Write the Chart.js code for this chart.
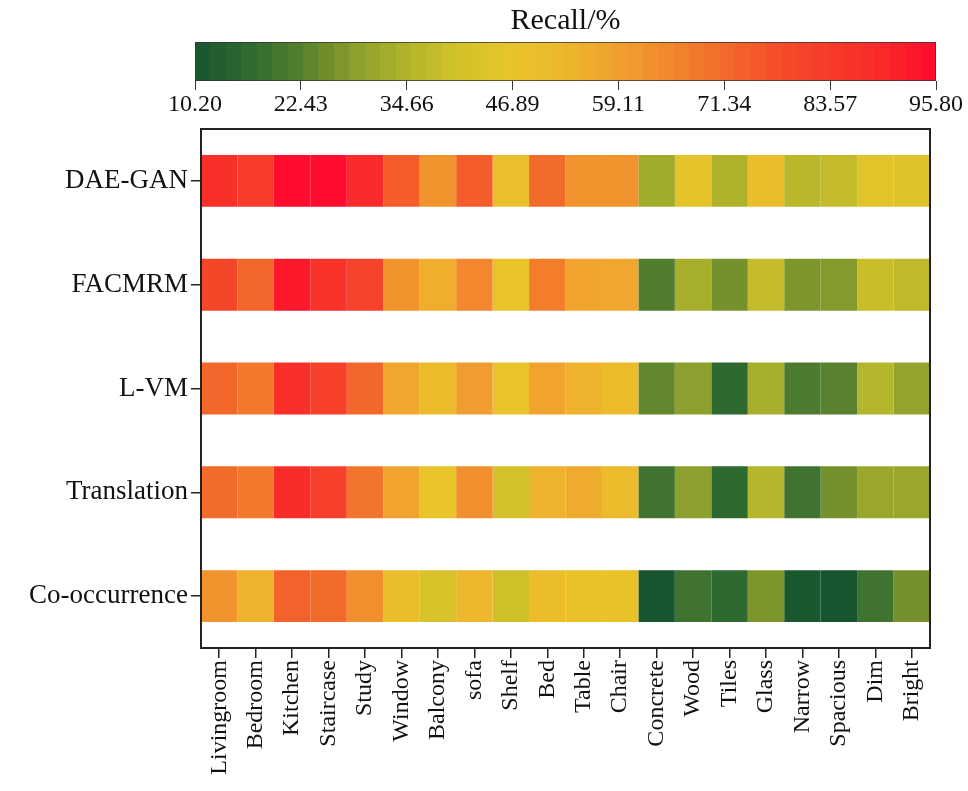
<!DOCTYPE html>
<html><head><meta charset="utf-8">
<script src="https://cdn.jsdelivr.net/npm/chart.js@4"></script>
<style>
html,body{margin:0;padding:0;background:#fff;}
#wrap{position:relative;width:968px;height:791px;background:#fff;}
#cb,#hm{position:absolute;left:0;top:0;}
</style></head><body>
<div id="wrap"><canvas id="cb" width="968" height="128"></canvas><canvas id="hm" width="968" height="791"></canvas></div>
<script>
// ---- data ----
const rowLabels = ['DAE-GAN', 'FACMRM', 'L-VM', 'Translation', 'Co-occurrence'];
const colLabels = ['Livingroom','Bedroom','Kitchen','Staircase','Study','Window','Balcony','sofa','Shelf','Bed','Table','Chair','Concrete','Wood','Tiles','Glass','Narrow','Spacious','Dim','Bright'];
const daeGan       = [88, 83, 95.5, 95.5, 90, 74, 62, 74, 49, 71, 62, 62, 32, 46, 34, 50, 36, 38, 45, 44];
const facmrm       = [80, 72, 93, 87, 81, 62, 55, 65, 47, 67, 58, 57, 22, 33, 26, 38, 27, 28, 39, 37];
const lvm          = [72, 68, 88, 82, 72, 57, 51, 60, 47, 58, 54, 51, 24, 29, 16, 33, 21, 23, 35, 30];
const translation  = [71, 68, 89, 82, 69, 58, 47, 63, 41, 54, 56, 51, 19, 29, 16, 35, 19, 26, 31, 31];
const coOccurrence = [62, 54, 73, 71, 63, 50, 42, 53, 40, 50, 48, 48, 10.5, 19, 16, 27, 11, 10.2, 19, 26];
const cbTickValues = [10.20, 22.43, 34.66, 46.89, 59.11, 71.34, 83.57, 95.80];
const cbMin = 10.20, cbMax = 95.80;

// ---- colormap (green -> yellow -> orange -> red) ----
const cmapStops = [
  [0.000, [23, 85, 47]], [0.071, [47, 106, 48]], [0.143, [85, 127, 46]],
  [0.214, [138, 157, 44]], [0.286, [178, 181, 43]], [0.357, [211, 194, 42]],
  [0.429, [232, 196, 42]], [0.500, [238, 182, 44]], [0.571, [240, 160, 46]],
  [0.643, [242, 134, 45]], [0.714, [243, 106, 43]], [0.786, [245, 77, 42]],
  [0.857, [247, 59, 42]], [0.929, [250, 42, 42]], [1.000, [255, 10, 46]]
];
function colorAt(t) {
  t = Math.max(0, Math.min(1, t));
  for (let i = 1; i < cmapStops.length; i++) {
    if (t <= cmapStops[i][0]) {
      const [t0, c0] = cmapStops[i - 1], [t1, c1] = cmapStops[i];
      const f = (t - t0) / (t1 - t0);
      const c = c0.map((v, k) => Math.round(v + (c1[k] - v) * f));
      return `rgb(${c[0]},${c[1]},${c[2]})`;
    }
  }
  const c = cmapStops[cmapStops.length - 1][1];
  return `rgb(${c[0]},${c[1]},${c[2]})`;
}
const colorFor = v => colorAt((v - cbMin) / (cbMax - cbMin));

const serif = 'Liberation Serif, Times New Roman, serif';
const ink = '#111';

// ---- colour bar ----
new Chart(document.getElementById('cb'), {
  type: 'bar',
  data: {
    labels: ['Recall/%'],
    datasets: [{
      data: [[cbMin, cbMax]],
      backgroundColor: (c) => {
        const ch = c.chart;
        if (!ch.chartArea) return '#ccc';
        const xs = ch.scales.x;
        const x0 = xs.getPixelForValue(cbMin), x1 = xs.getPixelForValue(cbMax);
        const g = ch.ctx.createLinearGradient(x0, 0, x1, 0);
        const N = 48;
        for (let k = 0; k < N; k++) {
          const col = colorAt((k + 0.5) / N);
          g.addColorStop(k / N, col);
          g.addColorStop((k + 1) / N - 1e-4, col);
        }
        return g;
      },
      borderColor: '#333', borderWidth: 1, borderSkipped: false,
      barPercentage: 1, categoryPercentage: 1
    }]
  },
  options: {
    indexAxis: 'y', responsive: false, animation: false, events: [],
    layout: { padding: { left: 195, right: 32, top: 0, bottom: 0 } },
    plugins: {
      legend: { display: false }, tooltip: { enabled: false },
      title: { display: true, text: 'Recall/%', color: ink, font: { family: serif, size: 30, weight: 'normal' }, padding: { top: 3, bottom: 3 } }
    },
    scales: {
      x: {
        type: 'linear', min: cbMin, max: cbMax,
        afterBuildTicks: s => { s.ticks = cbTickValues.map(v => ({ value: v })); },
        afterFit: s => { s.height = 128 - 81; },
        ticks: { callback: v => Number(v).toFixed(2), color: ink, font: { family: serif, size: 24 }, padding: 0, maxRotation: 0, autoSkip: false },
        grid: { drawOnChartArea: false, tickLength: 9, color: '#333', lineWidth: 1 },
        border: { display: false }
      },
      y: { display: false }
    }
  }
});

// ---- heat map ----
const matrix = [daeGan, facmrm, lvm, translation, coOccurrence];
const frame = {
  id: 'frame',
  afterDatasetsDraw(chart) {
    const a = chart.chartArea, ctx = chart.ctx;
    ctx.save();
    ctx.strokeStyle = '#222'; ctx.lineWidth = 2;
    ctx.strokeRect(a.left, a.top, a.right - a.left, a.bottom - a.top);
    ctx.restore();
  }
};
new Chart(document.getElementById('hm'), {
  type: 'bar',
  data: {
    labels: rowLabels,
    datasets: colLabels.map((name, j) => ({
      label: name,
      data: rowLabels.map(() => 1),
      backgroundColor: matrix.map(r => colorFor(r[j])),
      borderWidth: 0,
      barPercentage: 0.5, categoryPercentage: 1,
      xAxisID: 'x', yAxisID: 'y'
    }))
  },
  options: {
    indexAxis: 'y', responsive: false, animation: false, events: [],
    layout: { padding: { left: 0, right: 38, top: 129, bottom: 0 } },
    plugins: { legend: { display: false }, tooltip: { enabled: false } },
    scales: {
      x: { type: 'linear', stacked: true, min: 0, max: colLabels.length, display: false },
      xc: {
        type: 'category', labels: colLabels, offset: true, position: 'bottom',
        grid: { drawOnChartArea: false, offset: false, tickLength: 10, color: '#222', lineWidth: 1.5 },
        border: { color: '#222', width: 2 },
        ticks: { color: ink, font: { family: serif, size: 24 }, minRotation: 90, maxRotation: 90, autoSkip: false, padding: 2 },
        afterFit: s => { s.height = 791 - 648; }
      },
      y: {
        type: 'category', stacked: true, offset: true,
        grid: { drawOnChartArea: false, offset: false, tickLength: 10, color: '#222', lineWidth: 1.5 },
        border: { color: '#222', width: 2 },
        ticks: { color: ink, font: { family: serif, size: 27 }, padding: 3 },
        afterFit: s => { s.width = 201; }
      }
    }
  },
  plugins: [frame]
});
</script>
</body></html>
